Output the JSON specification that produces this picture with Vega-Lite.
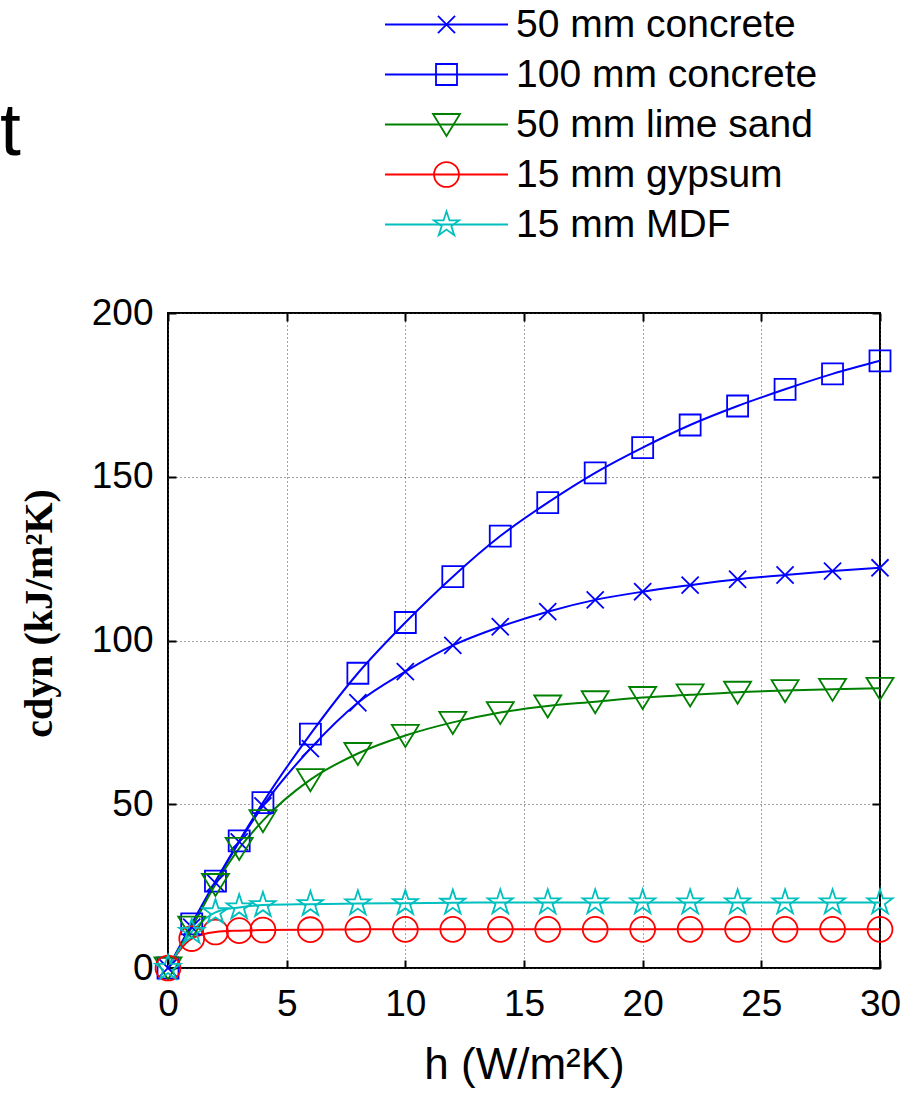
{
  "$schema": "https://vega.github.io/schema/vega-lite/v6.json",
  "width": 712,
  "height": 655,
  "autosize": {"type": "none"},
  "padding": {"left": 168, "top": 313, "right": 33, "bottom": 129},
  "background": "white",
  "title": {"text": "t", "anchor": "start", "frame": "group", "dx": -168, "offset": 0, "dy": 225, "baseline": "alphabetic", "fontSize": 75, "font": "Liberation Sans", "fontWeight": "normal", "color": "black"},
  "config": {
    "view": {"stroke": "black", "strokeWidth": 2},
    "font": "Liberation Sans"
  },
  "data": {"values": [
    {"material": "50 mm concrete", "h": 0, "c": 0},
    {"material": "50 mm concrete", "h": 1, "c": 12.5},
    {"material": "50 mm concrete", "h": 2, "c": 26},
    {"material": "50 mm concrete", "h": 3, "c": 38.5},
    {"material": "50 mm concrete", "h": 4, "c": 49.5},
    {"material": "50 mm concrete", "h": 6, "c": 67},
    {"material": "50 mm concrete", "h": 8, "c": 81},
    {"material": "50 mm concrete", "h": 10, "c": 90.5},
    {"material": "50 mm concrete", "h": 12, "c": 98.5},
    {"material": "50 mm concrete", "h": 14, "c": 104.2},
    {"material": "50 mm concrete", "h": 16, "c": 108.8},
    {"material": "50 mm concrete", "h": 18, "c": 112.4},
    {"material": "50 mm concrete", "h": 20, "c": 114.9},
    {"material": "50 mm concrete", "h": 22, "c": 116.9},
    {"material": "50 mm concrete", "h": 24, "c": 118.7},
    {"material": "50 mm concrete", "h": 26, "c": 120},
    {"material": "50 mm concrete", "h": 28, "c": 121.2},
    {"material": "50 mm concrete", "h": 30, "c": 122.2},
    {"material": "100 mm concrete", "h": 0, "c": 0},
    {"material": "100 mm concrete", "h": 1, "c": 13.5},
    {"material": "100 mm concrete", "h": 2, "c": 26.5},
    {"material": "100 mm concrete", "h": 3, "c": 38.8},
    {"material": "100 mm concrete", "h": 4, "c": 50.5},
    {"material": "100 mm concrete", "h": 6, "c": 71.4},
    {"material": "100 mm concrete", "h": 8, "c": 90},
    {"material": "100 mm concrete", "h": 10, "c": 105.5},
    {"material": "100 mm concrete", "h": 12, "c": 119.5},
    {"material": "100 mm concrete", "h": 14, "c": 131.9},
    {"material": "100 mm concrete", "h": 16, "c": 142.1},
    {"material": "100 mm concrete", "h": 18, "c": 151.2},
    {"material": "100 mm concrete", "h": 20, "c": 158.9},
    {"material": "100 mm concrete", "h": 22, "c": 165.8},
    {"material": "100 mm concrete", "h": 24, "c": 171.6},
    {"material": "100 mm concrete", "h": 26, "c": 176.7},
    {"material": "100 mm concrete", "h": 28, "c": 181.4},
    {"material": "100 mm concrete", "h": 30, "c": 185.4},
    {"material": "50 mm lime sand", "h": 0, "c": 0},
    {"material": "50 mm lime sand", "h": 1, "c": 12.5},
    {"material": "50 mm lime sand", "h": 2, "c": 25.5},
    {"material": "50 mm lime sand", "h": 3, "c": 36.5},
    {"material": "50 mm lime sand", "h": 4, "c": 45},
    {"material": "50 mm lime sand", "h": 6, "c": 57.5},
    {"material": "50 mm lime sand", "h": 8, "c": 65.5},
    {"material": "50 mm lime sand", "h": 10, "c": 71},
    {"material": "50 mm lime sand", "h": 12, "c": 75},
    {"material": "50 mm lime sand", "h": 14, "c": 78},
    {"material": "50 mm lime sand", "h": 16, "c": 80},
    {"material": "50 mm lime sand", "h": 18, "c": 81.3},
    {"material": "50 mm lime sand", "h": 20, "c": 82.6},
    {"material": "50 mm lime sand", "h": 22, "c": 83.4},
    {"material": "50 mm lime sand", "h": 24, "c": 84.2},
    {"material": "50 mm lime sand", "h": 26, "c": 84.7},
    {"material": "50 mm lime sand", "h": 28, "c": 85.1},
    {"material": "50 mm lime sand", "h": 30, "c": 85.4},
    {"material": "15 mm gypsum", "h": 0, "c": 0},
    {"material": "15 mm gypsum", "h": 1, "c": 9},
    {"material": "15 mm gypsum", "h": 2, "c": 11},
    {"material": "15 mm gypsum", "h": 3, "c": 11.4},
    {"material": "15 mm gypsum", "h": 4, "c": 11.6},
    {"material": "15 mm gypsum", "h": 6, "c": 11.7},
    {"material": "15 mm gypsum", "h": 8, "c": 11.8},
    {"material": "15 mm gypsum", "h": 10, "c": 11.8},
    {"material": "15 mm gypsum", "h": 12, "c": 11.8},
    {"material": "15 mm gypsum", "h": 14, "c": 11.8},
    {"material": "15 mm gypsum", "h": 16, "c": 11.8},
    {"material": "15 mm gypsum", "h": 18, "c": 11.8},
    {"material": "15 mm gypsum", "h": 20, "c": 11.8},
    {"material": "15 mm gypsum", "h": 22, "c": 11.8},
    {"material": "15 mm gypsum", "h": 24, "c": 11.8},
    {"material": "15 mm gypsum", "h": 26, "c": 11.8},
    {"material": "15 mm gypsum", "h": 28, "c": 11.8},
    {"material": "15 mm gypsum", "h": 30, "c": 11.8},
    {"material": "15 mm MDF", "h": 0, "c": 0},
    {"material": "15 mm MDF", "h": 1, "c": 11},
    {"material": "15 mm MDF", "h": 2, "c": 17},
    {"material": "15 mm MDF", "h": 3, "c": 18.5},
    {"material": "15 mm MDF", "h": 4, "c": 19.2},
    {"material": "15 mm MDF", "h": 6, "c": 19.5},
    {"material": "15 mm MDF", "h": 8, "c": 19.7},
    {"material": "15 mm MDF", "h": 10, "c": 19.8},
    {"material": "15 mm MDF", "h": 12, "c": 19.9},
    {"material": "15 mm MDF", "h": 14, "c": 20},
    {"material": "15 mm MDF", "h": 16, "c": 20},
    {"material": "15 mm MDF", "h": 18, "c": 20},
    {"material": "15 mm MDF", "h": 20, "c": 20},
    {"material": "15 mm MDF", "h": 22, "c": 20},
    {"material": "15 mm MDF", "h": 24, "c": 20},
    {"material": "15 mm MDF", "h": 26, "c": 20},
    {"material": "15 mm MDF", "h": 28, "c": 20},
    {"material": "15 mm MDF", "h": 30, "c": 20}
  ]},
  "layer": [
    {
      "mark": {"type": "line", "strokeWidth": 2, "interpolate": "monotone"},
      "encoding": {
        "x": {"field": "h", "type": "quantitative",
          "scale": {"domain": [0, 30], "nice": false, "zero": false},
          "axis": {"orient": "bottom", "values": [0, 5, 10, 15, 20, 25, 30], "title": "h (W/m²K)",
            "domain": false, "grid": true, "gridDash": [1, 3], "gridColor": "#444", "gridWidth": 1,
            "ticks": true, "tickSize": -8, "tickWidth": 2, "tickColor": "black", "labelFlush": false,
            "labelFontSize": 37, "labelColor": "black", "labelPadding": 26, "labelFont": "Liberation Sans",
            "titleFontSize": 44, "titleFont": "Liberation Sans", "titleFontWeight": "normal", "titleColor": "black", "titlePadding": 21}},
        "y": {"field": "c", "type": "quantitative",
          "scale": {"domain": [0, 200], "nice": false},
          "axis": {"orient": "left", "values": [0, 50, 100, 150, 200], "title": "cdyn (kJ/m²K)",
            "domain": false, "grid": true, "gridDash": [1, 3], "gridColor": "#444", "gridWidth": 1,
            "ticks": true, "tickSize": -8, "tickWidth": 2, "tickColor": "black", "labelFlush": false,
            "labelFontSize": 37, "labelColor": "black", "labelPadding": 23, "labelFont": "Liberation Sans",
            "titleFontSize": 40, "titleFont": "Liberation Serif", "titleFontWeight": "bold", "titleColor": "black", "titlePadding": 32, "titleY": 300}},
        "color": {"field": "material", "type": "nominal",
          "scale": {"domain": ["50 mm concrete", "100 mm concrete", "50 mm lime sand", "15 mm gypsum", "15 mm MDF"],
                    "range": ["#0000ff", "#0000ff", "#008000", "#ff0000", "#00bfbf"]},
          "legend": {"orient": "none", "legendX": 259, "legendY": -308, "title": null, "padding": 0,
            "symbolType": "M-4.1,0H4.1", "symbolSize": 900, "symbolStrokeWidth": 2,
            "labelFontSize": 39, "labelFont": "Liberation Sans", "labelOffset": 50, "labelOpacity": 0, "rowPadding": 10, "labelLimit": 400}}
      }
    },
    {
      "mark": {"type": "point", "filled": false, "strokeWidth": 1.8, "size": 900, "opacity": 1},
      "encoding": {
        "x": {"field": "h", "type": "quantitative",
          "axis": {"orient": "top", "values": [0, 5, 10, 15, 20, 25, 30], "title": null, "labels": false, "domain": false, "grid": false,
            "ticks": true, "tickSize": -8, "tickWidth": 2, "tickColor": "black"}},
        "y": {"field": "c", "type": "quantitative",
          "axis": {"orient": "right", "values": [0, 50, 100, 150, 200], "title": null, "labels": false, "domain": false, "grid": false,
            "ticks": true, "tickSize": -8, "tickWidth": 2, "tickColor": "black"}},
        "color": {"field": "material", "type": "nominal",
          "scale": {"domain": ["50 mm concrete", "100 mm concrete", "50 mm lime sand", "15 mm gypsum", "15 mm MDF"],
                    "range": ["#0000ff", "#0000ff", "#008000", "#ff0000", "#00bfbf"]},
          "legend": {"orient": "none", "legendX": 259, "legendY": -308, "title": null, "padding": 0,
            "symbolSize": 900, "symbolStrokeWidth": 1.8,
            "labelFontSize": 39, "labelFont": "Liberation Sans", "labelColor": "black", "labelOffset": 50, "rowPadding": 10, "labelLimit": 400}},
        "shape": {"field": "material", "type": "nominal",
          "scale": {"domain": ["50 mm concrete", "100 mm concrete", "50 mm lime sand", "15 mm gypsum", "15 mm MDF"],
                    "range": [
                      "M-0.57,-0.57L0.57,0.57M-0.57,0.57L0.57,-0.57",
                      "M-0.7,-0.7H0.7V0.7H-0.7Z",
                      "M-0.9,-0.7L0.9,-0.7L0,0.77Z",
                      "M-0.83,0A0.83,0.83,0,1,0,0.83,0A0.83,0.83,0,1,0,-0.83,0Z",
                      "M0,-0.88L0.198,-0.272L0.837,-0.272L0.319,0.104L0.517,0.712L0,0.336L-0.517,0.712L-0.319,0.104L-0.837,-0.272L-0.198,-0.272Z"
                    ]},
          "legend": {"orient": "none", "legendX": 259, "legendY": -308, "title": null, "padding": 0,
            "symbolSize": 900, "symbolStrokeWidth": 1.8,
            "labelFontSize": 39, "labelFont": "Liberation Sans", "labelColor": "black", "labelOffset": 50, "rowPadding": 10, "labelLimit": 400}}
      }
    }
  ],
  "resolve": {
    "scale": {"color": "independent", "shape": "independent"},
    "axis": {"x": "independent", "y": "independent"},
    "legend": {"color": "independent", "shape": "independent"}
  }
}
